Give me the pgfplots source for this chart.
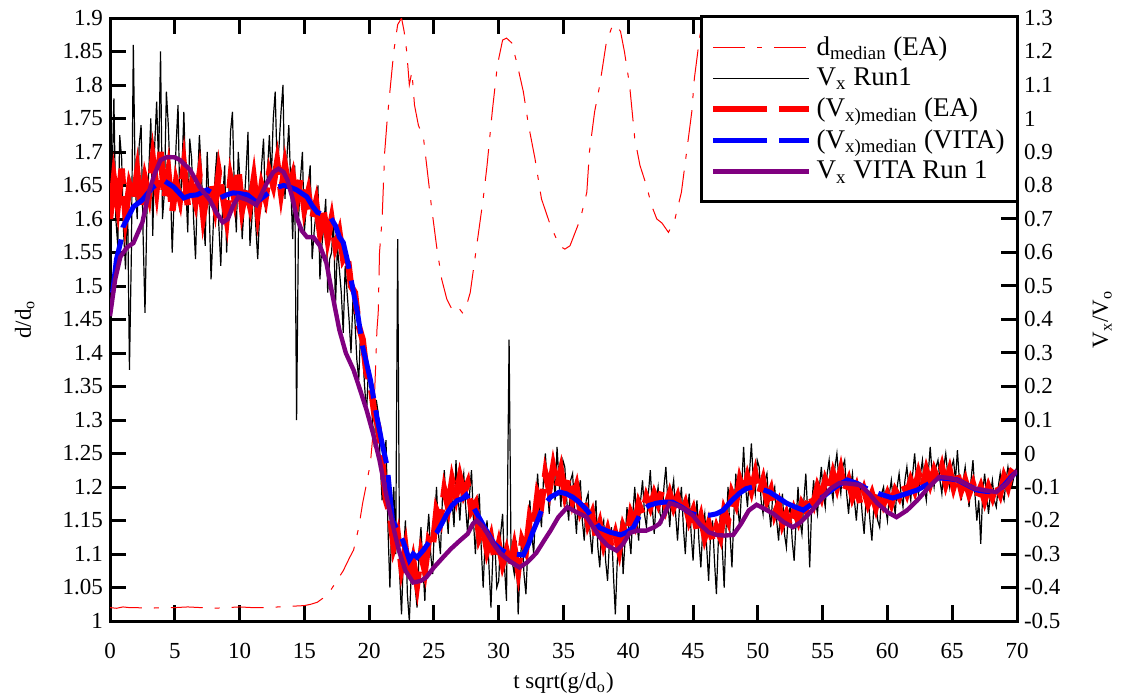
\documentclass[border=0pt]{standalone}
\usepackage{fontspec}
\setmainfont{Liberation Serif}
\usepackage{pgfplots}
\pgfplotsset{compat=1.18}
\usepackage{pgfplotstable}
\definecolor{vpurple}{RGB}{128,0,128}

\pgfplotstableread[row sep=\\]{
x y\\
0 1.02\\0.5 1.019\\1 1.021\\1.5 1.02\\2 1.02\\3 1.019\\4 1.02\\5 1.02\\6 1.021\\7 1.02\\8 1.019\\9 1.02\\10 1.021\\11 1.02\\12 1.02\\13 1.021\\14 1.022\\15 1.023\\15.5 1.025\\16 1.028\\16.5 1.035\\17 1.045\\17.5 1.06\\18 1.075\\18.5 1.095\\18.8 1.106\\19.2 1.14\\19.5 1.176\\19.8 1.205\\20.1 1.236\\20.3 1.28\\20.5 1.38\\20.6 1.434\\20.7 1.46\\20.8 1.55\\21.0 1.6\\21.2 1.70\\21.4 1.75\\21.6 1.79\\21.9 1.85\\22.2 1.89\\22.5 1.90\\22.7 1.88\\22.9 1.85\\23.1 1.80\\23.3 1.82\\23.5 1.77\\23.8 1.74\\24.2 1.72\\24.5 1.67\\24.8 1.62\\25.2 1.56\\25.6 1.51\\26.0 1.48\\26.4 1.465\\26.8 1.47\\27.2 1.46\\27.5 1.47\\27.8 1.49\\28.3 1.56\\28.8 1.63\\29.1 1.68\\29.5 1.76\\29.9 1.83\\30.3 1.867\\30.6 1.87\\31.0 1.863\\31.4 1.833\\31.9 1.79\\32.3 1.74\\32.8 1.69\\33.3 1.63\\34.0 1.59\\34.7 1.56\\35.1 1.555\\35.5 1.56\\36.3 1.6\\36.8 1.64\\37.0 1.70\\37.4 1.76\\37.8 1.80\\38.3 1.863\\38.8 1.89\\39.1 1.888\\39.4 1.88\\39.7 1.85\\40.1 1.80\\40.5 1.72\\40.9 1.68\\41.4 1.65\\41.8 1.62\\42.2 1.60\\42.6 1.594\\43.1 1.58\\43.6 1.6\\44.1 1.64\\44.5 1.70\\44.9 1.76\\45.1 1.81\\45.5 1.87\\46.0 1.93\\
}\tdmed

\pgfplotstableread[row sep=\\]{
x y\\
0 0.50\\0.15 0.80\\0.3 1.06\\0.45 0.70\\0.6 0.62\\0.75 0.95\\0.9 0.88\\1.05 0.66\\1.2 0.55\\1.35 0.78\\1.5 0.25\\1.65 0.60\\1.8 1.22\\1.95 0.80\\2.1 0.70\\2.25 0.92\\2.4 0.98\\2.55 0.66\\2.7 0.42\\2.85 0.72\\3.0 0.85\\3.15 1.00\\3.3 0.65\\3.45 0.92\\3.6 1.05\\3.75 0.86\\3.9 1.20\\4.05 0.70\\4.2 0.78\\4.35 1.08\\4.5 0.98\\4.65 0.82\\4.8 0.60\\4.95 0.76\\5.1 0.92\\5.25 1.04\\5.4 0.72\\5.55 0.84\\5.7 1.02\\5.85 0.80\\6.0 0.66\\6.15 0.94\\6.3 0.88\\6.45 0.70\\6.6 0.58\\6.75 0.80\\6.9 0.95\\7.05 0.84\\7.2 0.70\\7.35 0.62\\7.5 0.90\\7.65 0.74\\7.8 0.52\\7.95 0.66\\8.1 0.82\\8.25 0.90\\8.4 0.68\\8.55 0.56\\8.7 0.75\\8.85 0.86\\9.0 0.60\\9.15 0.74\\9.3 0.96\\9.45 1.02\\9.6 0.78\\9.75 0.66\\9.9 0.90\\10.05 0.80\\10.2 0.64\\10.35 0.74\\10.5 0.84\\10.65 0.96\\10.8 0.62\\10.95 0.70\\11.1 0.80\\11.25 0.68\\11.4 0.58\\11.55 0.72\\11.7 0.86\\11.85 0.94\\12.0 0.72\\12.15 0.84\\12.3 0.95\\12.45 0.82\\12.6 1.00\\12.75 1.08\\12.9 0.85\\13.05 0.92\\13.2 1.02\\13.35 1.10\\13.5 0.76\\13.65 0.88\\13.8 0.98\\13.95 0.80\\14.1 0.64\\14.25 0.86\\14.4 0.10\\14.55 0.70\\14.7 0.82\\14.85 0.90\\15.0 0.66\\15.15 0.74\\15.3 0.80\\15.45 0.86\\15.6 0.58\\15.75 0.66\\15.9 0.72\\16.05 0.80\\16.2 0.52\\16.35 0.62\\16.5 0.68\\16.65 0.76\\16.8 0.48\\16.95 0.58\\17.1 0.60\\17.25 0.70\\17.4 0.44\\17.55 0.62\\17.7 0.55\\17.85 0.48\\18.0 0.36\\18.15 0.56\\18.3 0.48\\18.45 0.40\\18.6 0.30\\18.75 0.46\\18.9 0.40\\19.05 0.28\\19.2 0.22\\19.35 0.38\\19.5 0.30\\19.65 0.20\\19.8 0.12\\19.95 0.26\\20.1 0.22\\20.25 0.10\\20.4 0.02\\20.55 0.16\\20.7 0.12\\20.85 -0.02\\21.0 -0.14\\21.15 -0.04\\21.3 0.04\\21.45 -0.22\\21.6 -0.40\\21.75 -0.20\\21.9 -0.10\\22.05 -0.30\\22.2 0.64\\22.35 -0.36\\22.5 -0.48\\22.65 -0.30\\22.8 -0.20\\22.95 -0.42\\23.1 -0.50\\23.25 -0.36\\23.4 -0.28\\23.55 -0.40\\23.7 -0.46\\23.85 -0.30\\24.0 -0.22\\24.15 -0.34\\24.3 -0.44\\24.45 -0.26\\24.6 -0.18\\24.75 -0.30\\24.9 -0.36\\25.05 -0.20\\25.2 -0.10\\25.35 -0.24\\25.5 -0.30\\25.65 -0.14\\25.8 -0.05\\25.95 -0.16\\26.1 -0.24\\26.25 -0.08\\26.4 -0.14\\26.55 -0.22\\26.7 -0.02\\26.85 -0.12\\27.0 -0.20\\27.15 -0.10\\27.3 -0.06\\27.45 -0.16\\27.6 -0.24\\27.75 -0.12\\27.9 -0.05\\28.05 -0.20\\28.2 -0.30\\28.35 -0.18\\28.5 -0.12\\28.65 -0.28\\28.8 -0.40\\28.95 -0.26\\29.1 -0.20\\29.25 -0.34\\29.4 -0.46\\29.55 -0.30\\29.7 -0.26\\29.85 -0.40\\30.0 -0.38\\30.15 -0.24\\30.3 -0.18\\30.45 -0.34\\30.6 -0.44\\30.8 0.34\\30.95 -0.30\\31.2 -0.36\\31.35 -0.26\\31.5 -0.48\\31.65 -0.34\\31.8 -0.24\\31.95 -0.36\\32.1 -0.42\\32.25 -0.28\\32.4 -0.14\\32.55 -0.24\\32.7 -0.30\\32.85 -0.16\\33.0 -0.06\\33.15 -0.16\\33.3 -0.22\\33.45 -0.08\\33.6 0.00\\33.75 -0.10\\33.9 -0.18\\34.05 -0.06\\34.2 -0.02\\34.35 -0.14\\34.5 0.02\\34.65 -0.08\\34.8 -0.16\\34.95 -0.02\\35.1 -0.04\\35.25 -0.14\\35.4 -0.20\\35.55 -0.08\\35.7 -0.06\\35.85 -0.16\\36.0 -0.24\\36.15 -0.12\\36.3 -0.08\\36.45 -0.20\\36.6 -0.26\\36.75 -0.14\\36.9 -0.12\\37.05 -0.24\\37.2 -0.30\\37.35 -0.20\\37.5 -0.14\\37.65 -0.28\\37.8 -0.34\\37.95 -0.22\\38.1 -0.20\\38.25 -0.32\\38.4 -0.38\\38.55 -0.26\\38.7 -0.22\\38.85 -0.36\\39.0 -0.48\\39.15 -0.32\\39.3 -0.28\\39.45 -0.20\\39.6 -0.36\\39.75 -0.26\\39.9 -0.16\\40.05 -0.24\\40.2 -0.30\\40.35 -0.18\\40.5 -0.10\\40.65 -0.20\\40.8 -0.26\\40.95 -0.14\\41.1 -0.08\\41.25 -0.18\\41.4 -0.22\\41.55 -0.12\\41.7 -0.05\\41.85 -0.16\\42.0 -0.24\\42.15 -0.14\\42.3 -0.10\\42.45 -0.18\\42.6 -0.20\\42.75 -0.10\\42.9 -0.04\\43.05 -0.14\\43.2 -0.22\\43.35 -0.12\\43.5 -0.08\\43.65 -0.18\\43.8 -0.26\\43.95 -0.16\\44.1 -0.10\\44.25 -0.22\\44.4 -0.30\\44.55 -0.18\\44.7 -0.12\\44.85 -0.24\\45.0 -0.32\\45.15 -0.20\\45.3 -0.14\\45.45 -0.26\\45.6 -0.34\\45.75 -0.22\\45.9 -0.18\\46.05 -0.28\\46.2 -0.38\\46.35 -0.24\\46.5 -0.20\\46.65 -0.32\\46.8 -0.42\\46.95 -0.26\\47.1 -0.18\\47.25 -0.28\\47.4 -0.40\\47.55 -0.22\\47.7 -0.10\\47.85 -0.24\\48.0 -0.34\\48.15 -0.18\\48.3 -0.06\\48.45 -0.16\\48.6 -0.22\\48.75 -0.10\\48.9 0.02\\49.05 -0.10\\49.2 -0.16\\49.35 -0.06\\49.5 0.03\\49.65 -0.08\\49.8 -0.12\\49.95 -0.02\\50.1 -0.04\\50.25 -0.14\\50.4 -0.18\\50.55 -0.08\\50.7 -0.06\\50.85 -0.16\\51.0 -0.22\\51.15 -0.12\\51.3 -0.10\\51.45 -0.20\\51.6 -0.26\\51.75 -0.16\\51.9 -0.12\\52.05 -0.24\\52.2 -0.28\\52.35 -0.18\\52.5 -0.16\\52.65 -0.26\\52.8 -0.32\\52.95 -0.20\\53.1 -0.10\\53.25 -0.20\\53.4 -0.24\\53.55 -0.14\\53.7 -0.06\\53.85 -0.18\\54.0 -0.34\\54.15 -0.16\\54.3 -0.08\\54.45 -0.14\\54.6 -0.18\\54.75 -0.10\\54.9 -0.04\\55.05 -0.12\\55.2 -0.16\\55.35 -0.06\\55.5 -0.02\\55.65 -0.10\\55.8 -0.14\\55.95 -0.04\\56.1 0.00\\56.25 -0.08\\56.4 -0.12\\56.55 -0.04\\56.7 -0.02\\56.85 -0.12\\57.0 -0.18\\57.15 -0.10\\57.3 -0.06\\57.45 -0.14\\57.6 -0.20\\57.75 -0.12\\57.9 -0.10\\58.05 -0.18\\58.2 -0.24\\58.35 -0.14\\58.5 -0.12\\58.65 -0.20\\58.8 -0.26\\58.95 -0.16\\59.1 -0.14\\59.25 -0.20\\59.4 -0.22\\59.55 -0.12\\59.7 -0.10\\59.85 -0.16\\60.0 -0.20\\60.15 -0.12\\60.3 -0.08\\60.45 -0.14\\60.6 -0.18\\60.75 -0.10\\60.9 -0.06\\61.05 -0.12\\61.2 -0.16\\61.35 -0.08\\61.5 -0.04\\61.65 -0.10\\61.8 -0.14\\61.95 -0.06\\62.1 0.00\\62.25 -0.08\\62.4 -0.12\\62.55 -0.06\\62.7 -0.02\\62.85 -0.10\\63.0 -0.14\\63.15 -0.06\\63.3 0.02\\63.45 -0.06\\63.6 -0.10\\63.75 -0.04\\63.9 -0.02\\64.05 -0.08\\64.2 -0.12\\64.35 -0.04\\64.5 0.00\\64.65 -0.06\\64.8 -0.10\\64.95 -0.04\\65.1 -0.02\\65.25 -0.08\\65.4 0.01\\65.55 -0.08\\65.7 -0.14\\65.85 -0.08\\66.0 -0.04\\66.15 -0.10\\66.3 -0.16\\66.45 -0.08\\66.6 -0.02\\66.75 -0.12\\66.9 -0.20\\67.05 -0.14\\67.2 -0.27\\67.35 -0.12\\67.5 -0.06\\67.65 -0.12\\67.8 -0.18\\67.95 -0.12\\68.1 -0.08\\68.25 -0.14\\68.4 -0.16\\68.55 -0.10\\68.7 -0.06\\68.85 -0.12\\69.0 -0.14\\69.15 -0.08\\69.3 -0.04\\69.45 -0.08\\69.6 -0.10\\69.8 -0.06\\70.0 -0.04\\
}\tblack

\pgfplotstableread[row sep=\\]{
x y\\
0 0.70\\0.3 0.82\\0.6 0.74\\0.9 0.85\\1.2 0.71\\1.5 0.80\\1.8 0.76\\2.1 0.84\\2.4 0.73\\2.7 0.82\\3.0 0.77\\3.3 0.88\\3.6 0.79\\3.9 0.90\\4.2 0.76\\4.5 0.84\\4.8 0.72\\5.1 0.81\\5.4 0.76\\5.7 0.86\\6.0 0.74\\6.3 0.80\\6.6 0.75\\6.9 0.83\\7.2 0.71\\7.5 0.78\\7.8 0.81\\8.1 0.74\\8.4 0.84\\8.7 0.77\\9.0 0.70\\9.3 0.82\\9.6 0.76\\9.9 0.85\\10.2 0.73\\10.5 0.79\\10.8 0.74\\11.1 0.82\\11.4 0.72\\11.7 0.80\\12.0 0.76\\12.3 0.84\\12.6 0.80\\12.9 0.87\\13.2 0.78\\13.5 0.86\\13.8 0.79\\14.1 0.83\\14.4 0.75\\14.7 0.82\\15.0 0.73\\15.3 0.78\\15.6 0.70\\15.9 0.75\\16.2 0.66\\16.5 0.72\\16.8 0.64\\17.1 0.70\\17.4 0.62\\17.7 0.66\\18.0 0.58\\18.3 0.60\\18.6 0.50\\18.9 0.48\\19.2 0.38\\19.5 0.34\\19.8 0.24\\20.1 0.21\\20.4 0.12\\20.7 0.08\\21.0 -0.02\\21.3 -0.14\\21.6 -0.18\\21.9 -0.28\\22.2 -0.24\\22.5 -0.34\\22.8 -0.28\\23.1 -0.38\\23.4 -0.32\\23.7 -0.39\\24.0 -0.30\\24.3 -0.35\\24.6 -0.26\\24.9 -0.28\\25.2 -0.17\\25.5 -0.20\\25.8 -0.11\\26.1 -0.16\\26.4 -0.08\\26.7 -0.13\\27.0 -0.07\\27.3 -0.12\\27.6 -0.09\\27.9 -0.17\\28.2 -0.15\\28.5 -0.25\\28.8 -0.22\\29.1 -0.29\\29.4 -0.25\\29.7 -0.32\\30.0 -0.27\\30.3 -0.33\\30.6 -0.29\\30.9 -0.34\\31.2 -0.28\\31.5 -0.35\\31.8 -0.26\\32.1 -0.29\\32.4 -0.19\\32.7 -0.22\\33.0 -0.12\\33.3 -0.15\\33.6 -0.06\\33.9 -0.11\\34.2 -0.04\\34.5 -0.10\\34.8 -0.05\\35.1 -0.12\\35.4 -0.07\\35.7 -0.14\\36.0 -0.10\\36.3 -0.17\\36.6 -0.14\\36.9 -0.21\\37.2 -0.18\\37.5 -0.25\\37.8 -0.21\\38.1 -0.27\\38.4 -0.23\\38.7 -0.28\\39.0 -0.24\\39.3 -0.29\\39.6 -0.22\\39.9 -0.25\\40.2 -0.18\\40.5 -0.21\\40.8 -0.15\\41.1 -0.18\\41.4 -0.13\\41.7 -0.16\\42.0 -0.12\\42.3 -0.15\\42.6 -0.11\\42.9 -0.16\\43.2 -0.12\\43.5 -0.16\\43.8 -0.13\\44.1 -0.18\\44.4 -0.15\\44.7 -0.20\\45.0 -0.17\\45.3 -0.23\\45.6 -0.19\\45.9 -0.25\\46.2 -0.21\\46.5 -0.26\\46.8 -0.22\\47.1 -0.25\\47.4 -0.17\\47.7 -0.20\\48.0 -0.12\\48.3 -0.15\\48.6 -0.08\\48.9 -0.12\\49.2 -0.07\\49.5 -0.11\\49.8 -0.06\\50.1 -0.12\\50.4 -0.08\\50.7 -0.14\\51.0 -0.11\\51.3 -0.18\\51.6 -0.15\\51.9 -0.21\\52.2 -0.18\\52.5 -0.22\\52.8 -0.17\\53.1 -0.20\\53.4 -0.15\\53.7 -0.17\\54.0 -0.12\\54.3 -0.15\\54.6 -0.10\\54.9 -0.13\\55.2 -0.08\\55.5 -0.11\\55.8 -0.06\\56.1 -0.10\\56.4 -0.05\\56.7 -0.11\\57.0 -0.08\\57.3 -0.13\\57.6 -0.10\\57.9 -0.15\\58.2 -0.11\\58.5 -0.15\\58.8 -0.12\\59.1 -0.16\\59.4 -0.11\\59.7 -0.15\\60.0 -0.12\\60.3 -0.15\\60.6 -0.11\\60.9 -0.13\\61.2 -0.09\\61.5 -0.12\\61.8 -0.08\\62.1 -0.11\\62.4 -0.06\\62.7 -0.10\\63.0 -0.05\\63.3 -0.09\\63.6 -0.05\\63.9 -0.08\\64.2 -0.04\\64.5 -0.09\\64.8 -0.05\\65.1 -0.10\\65.4 -0.06\\65.7 -0.11\\66.0 -0.08\\66.3 -0.12\\66.6 -0.09\\66.9 -0.13\\67.2 -0.10\\67.5 -0.14\\67.8 -0.10\\68.1 -0.13\\68.4 -0.09\\68.7 -0.12\\69.0 -0.07\\69.3 -0.10\\69.6 -0.05\\70.0 -0.03\\
}\tred

\pgfplotstableread[row sep=\\]{
x y\\
0.2 0.48\\0.5 0.58\\0.8 0.628\\1.0 0.676\\1.8 0.736\\2.5 0.757\\3.3 0.795\\4.1 0.816\\4.9 0.796\\5.7 0.763\\6.2 0.77\\6.7 0.772\\7.5 0.787\\8.0 0.775\\8.5 0.763\\9.0 0.772\\9.5 0.778\\10.0 0.776\\10.6 0.772\\11.3 0.75\\11.8 0.765\\12.3 0.78\\12.9 0.795\\13.4 0.8\\13.9 0.795\\14.4 0.787\\15.2 0.766\\15.6 0.74\\16.0 0.72\\16.5 0.712\\17.0 0.706\\17.4 0.68\\17.7 0.646\\18.0 0.63\\18.3 0.58\\18.7 0.50\\19.1 0.42\\19.5 0.318\\19.8 0.27\\20.1 0.219\\20.6 0.109\\21.0 0.03\\21.4 -0.04\\21.8 -0.2\\22.2 -0.23\\22.6 -0.26\\23.1 -0.318\\23.4 -0.30\\23.7 -0.31\\24.2 -0.288\\24.7 -0.26\\25.2 -0.237\\25.6 -0.21\\26.0 -0.18\\26.4 -0.155\\26.8 -0.14\\27.2 -0.135\\27.5 -0.124\\27.9 -0.15\\28.3 -0.178\\28.9 -0.22\\29.6 -0.267\\30.1 -0.285\\30.6 -0.297\\31.2 -0.30\\31.9 -0.303\\32.3 -0.27\\32.6 -0.237\\33.0 -0.2\\33.4 -0.16\\34.0 -0.13\\34.7 -0.115\\35.2 -0.12\\35.7 -0.13\\36.2 -0.145\\36.8 -0.169\\37.3 -0.195\\37.8 -0.222\\38.6 -0.235\\39.4 -0.243\\39.9 -0.235\\40.4 -0.22\\40.8 -0.19\\41.1 -0.169\\41.6 -0.155\\42.2 -0.148\\42.8 -0.145\\43.4 -0.145\\44.1 -0.16\\44.8 -0.178\\45.5 -0.186\\46.3 -0.184\\46.8 -0.18\\47.3 -0.17\\48.0 -0.14\\48.6 -0.118\\49.1 -0.105\\49.6 -0.1\\50.2 -0.105\\50.9 -0.115\\51.5 -0.13\\52.2 -0.148\\52.9 -0.16\\53.5 -0.169\\54.2 -0.15\\55.0 -0.13\\56.0 -0.1\\56.9 -0.079\\57.7 -0.09\\58.6 -0.109\\59.5 -0.122\\60.4 -0.133\\61.3 -0.122\\62.3 -0.109\\63.2 -0.09\\64.0 -0.073\\64.7 -0.075\\65.4 -0.079\\66.2 -0.095\\66.9 -0.109\\67.6 -0.113\\68.4 -0.115\\69.0 -0.095\\69.7 -0.064\\70 -0.055\\
}\tblue

\pgfplotstableread[row sep=\\]{
x y\\
0 0.41\\0.4 0.52\\0.8 0.587\\1.3 0.615\\1.8 0.628\\2.5 0.69\\3.0 0.78\\3.4 0.83\\3.9 0.876\\4.4 0.885\\5.0 0.884\\5.4 0.876\\6.2 0.846\\6.9 0.796\\7.7 0.757\\8.2 0.72\\8.7 0.69\\9.1 0.70\\9.5 0.74\\9.9 0.766\\10.6 0.757\\11.3 0.742\\12.1 0.807\\12.6 0.84\\13.0 0.85\\13.4 0.84\\13.7 0.816\\14.1 0.76\\14.4 0.706\\14.8 0.665\\15.2 0.646\\15.7 0.646\\16.2 0.62\\16.7 0.569\\17.2 0.467\\17.7 0.369\\18.2 0.30\\18.8 0.249\\19.3 0.19\\19.8 0.13\\20.3 0.06\\20.8 -0.02\\21.3 -0.12\\21.8 -0.21\\22.3 -0.29\\22.8 -0.35\\23.4 -0.385\\24.0 -0.38\\24.4 -0.37\\25.0 -0.34\\25.7 -0.31\\26.3 -0.285\\27.0 -0.26\\27.6 -0.24\\28.0 -0.21\\28.3 -0.20\\28.7 -0.215\\29.1 -0.237\\29.6 -0.27\\30.1 -0.297\\30.8 -0.32\\31.6 -0.34\\32.2 -0.325\\32.9 -0.297\\33.5 -0.26\\34.0 -0.23\\34.6 -0.19\\35.3 -0.16\\36.0 -0.175\\36.8 -0.19\\37.3 -0.22\\37.8 -0.25\\38.4 -0.275\\39.1 -0.29\\39.6 -0.27\\40.1 -0.237\\40.7 -0.23\\41.4 -0.23\\42.0 -0.22\\42.4 -0.21\\42.8 -0.18\\43.2 -0.148\\43.8 -0.155\\44.5 -0.17\\45.0 -0.185\\45.5 -0.21\\46.2 -0.235\\46.8 -0.243\\47.4 -0.245\\48.1 -0.243\\48.7 -0.21\\49.3 -0.17\\49.9 -0.153\\50.5 -0.165\\51.2 -0.18\\52.0 -0.205\\52.7 -0.22\\53.3 -0.205\\54.0 -0.178\\54.8 -0.14\\55.6 -0.105\\56.3 -0.088\\57.1 -0.09\\57.9 -0.094\\58.6 -0.12\\59.2 -0.148\\60.0 -0.175\\60.7 -0.19\\61.5 -0.17\\62.3 -0.14\\63.2 -0.10\\64.0 -0.07\\64.7 -0.073\\65.4 -0.079\\66.0 -0.09\\66.6 -0.103\\67.5 -0.11\\68.4 -0.115\\69.2 -0.09\\70 -0.05\\
}\tpurple

\pgfplotsset{
  common/.style={
    scale only axis, width=453.5pt, height=301.5pt,
    xmin=0, xmax=70,
    axis line style={line width=1.5pt},
    major tick style={line width=1.5pt, black},
    major tick length=8pt, tick align=inside,
    tick label style={font=\fontsize{11.5}{13}\selectfont},
    label style={font=\fontsize{11.5}{13}\selectfont},
    /pgf/number format/assume math mode=true,
    legend image code/.code={\draw[##1] (0pt,0pt) -- (48pt,0pt);},
  },
}

\begin{document}
\begin{tikzpicture}
\begin{axis}[common, name=ax,
  ymin=1, ymax=1.9,
  xtick={0,5,10,15,20,25,30,35,40,45,50,55,60,65,70},
  xtick pos=both, xticklabel pos=left,
  xticklabel style={yshift=-7.5pt},
  ytick={1,1.05,1.1,1.15,1.2,1.25,1.3,1.35,1.4,1.45,1.5,1.55,1.6,1.65,1.7,1.75,1.8,1.85,1.9},
  ytick pos=left,
  xlabel={t sqrt(g/d\textsubscript{o})},
  ylabel={d/d\textsubscript{o}},
  xlabel style={at={(axis description cs:0.5,-0.103)}, anchor=center},
  ylabel style={at={(axis description cs:-0.094,0.5)}, anchor=center},
]
\addplot[red, line width=0.5pt, dash pattern=on 16pt off 6pt on 2.5pt off 6pt] table[x=x,y=y] {\tdmed};
\end{axis}
\begin{axis}[common,
  ymin=-0.5, ymax=1.3,
  axis y line*=right, axis x line=none,
  ytick={-0.5,-0.4,-0.3,-0.2,-0.1,0,0.1,0.2,0.3,0.4,0.5,0.6,0.7,0.8,0.9,1,1.1,1.2,1.3},
  ylabel={V\textsubscript{x}/V\textsubscript{o}},
  ylabel style={at={(axis description cs:1.094,0.5)}, anchor=center},
  legend style={at={(rel axis cs:1,1)}, anchor=north east, xshift=1pt, yshift=1.5pt,
    draw=black, line width=1.5pt, fill=white,
    font=\fontsize{13.5}{15}\selectfont, inner xsep=4.5pt, inner ysep=8pt,
    row sep=0.8pt},
  legend cell align=left,
]
\addlegendimage{red, line width=0.5pt, dash pattern=on 16pt off 6pt on 2.5pt off 6pt}
\addlegendentry{d\textsubscript{median} (EA)}
\addplot[black, line width=0.6pt] table[x=x,y=y] {\tblack};
\addlegendentry{V\textsubscript{x} Run1}
\addplot[red, line width=3.2pt, dash pattern=on 27pt off 6pt] table[x=x,y=y] {\tred};
\addlegendentry{(V\textsubscript{x)median} (EA)}
\addplot[blue, line width=2.5pt, dash pattern=on 27pt off 6pt] table[x=x,y=y] {\tblue};
\addlegendentry{(V\textsubscript{x)median} (VITA)}
\addplot[vpurple, line width=2.2pt] table[x=x,y=y] {\tpurple};
\addlegendentry{V\textsubscript{x} VITA Run 1}
\end{axis}
\pgfresetboundingbox
\path[use as bounding box] ([shift={(-55pt,-39pt)}]ax.south west) rectangle ([shift={(55pt,9pt)}]ax.north east);
\end{tikzpicture}
\end{document}
